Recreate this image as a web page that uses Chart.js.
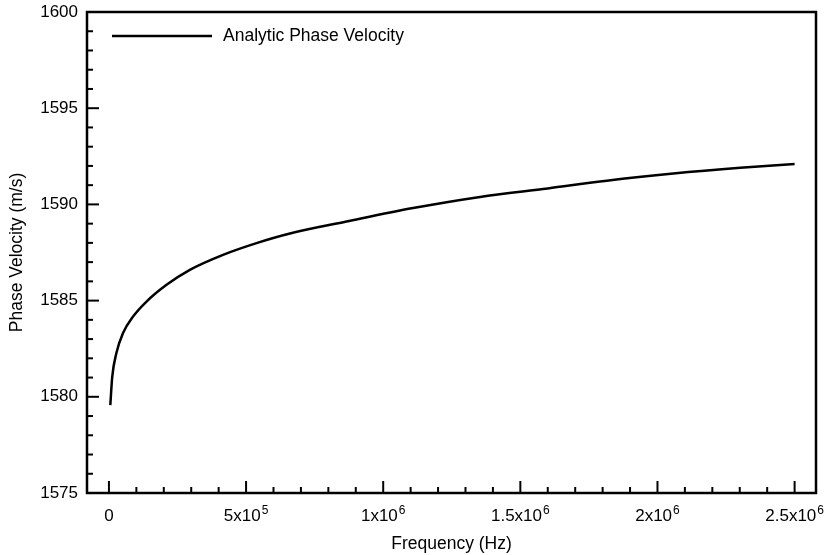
<!DOCTYPE html>
<html>
<head>
<meta charset="utf-8">
<script src="https://cdn.jsdelivr.net/npm/chart.js@4/dist/chart.umd.min.js"></script>
<style>
  html, body { margin: 0; padding: 0; background: #fff; }
  #wrap { width: 825px; height: 555px; }
</style>
</head>
<body>
<div id="wrap"><canvas id="chart" width="825" height="555"></canvas></div>
<script>
// values
var frequency = [5000, 12000, 27000, 51000, 88000, 137000, 210000, 295000, 416000, 538000,
                 660000, 866000, 1109000, 1353000, 1600000, 1815000, 2058000, 2302000, 2500000];
var phaseVelocity = [1579.57, 1581.04, 1582.26, 1583.30, 1584.17, 1584.95, 1585.82, 1586.60, 1587.38, 1587.99,
                     1588.49, 1589.11, 1589.81, 1590.39, 1590.83, 1591.23, 1591.60, 1591.90, 1592.10];
var xTickValues = [0, 500000, 1000000, 1500000, 2000000, 2500000];
var xTickBase = ['0', '5x10', '1x10', '1.5x10', '2x10', '2.5x10'];
var xTickExp = ['', '5', '6', '6', '6', '6'];
var yTickValues = [1575, 1580, 1585, 1590, 1595, 1600];
var seriesName = 'Analytic Phase Velocity';

var font = "'Liberation Sans', Arial, Helvetica, sans-serif";

// box, inward tick marks, x labels with exponents and the legend
var framePlugin = {
    id: 'frame',
    afterDraw: function (chart) {
        var ctx = chart.ctx;
        var a = chart.chartArea;
        var xs = chart.scales.x, ys = chart.scales.y;
        ctx.save();
        ctx.strokeStyle = '#000';
        ctx.fillStyle = '#000';
        ctx.lineCap = 'butt';

        // minor + major ticks on the bottom axis
        ctx.lineWidth = 2;
        for (var v = 0; v <= 2500000; v += 100000) {
            var px = xs.getPixelForValue(v);
            var len = (v % 500000 === 0) ? 12 : 6;
            ctx.beginPath();
            ctx.moveTo(px, a.bottom);
            ctx.lineTo(px, a.bottom - len);
            ctx.stroke();
        }
        // minor + major ticks on the left axis
        for (var w = 1575; w <= 1600; w += 1) {
            var py = ys.getPixelForValue(w);
            var l2 = (w % 5 === 0) ? 12 : 6;
            ctx.beginPath();
            ctx.moveTo(a.left, py);
            ctx.lineTo(a.left + l2, py);
            ctx.stroke();
        }

        // frame
        ctx.lineWidth = 2.5;
        ctx.strokeRect(a.left, a.top, a.right - a.left, a.bottom - a.top);

        // x tick labels: mantissa + raised exponent
        ctx.textBaseline = 'alphabetic';
        ctx.textAlign = 'left';
        var baseY = a.bottom + 28;
        for (var i = 0; i < xTickValues.length; i++) {
            ctx.font = '17px ' + font;
            var bw = ctx.measureText(xTickBase[i]).width;
            ctx.font = '12px ' + font;
            var ew = xTickExp[i] ? ctx.measureText(xTickExp[i]).width + 1 : 0;
            var x0 = xs.getPixelForValue(xTickValues[i]) - (bw + ew) / 2;
            ctx.font = '17px ' + font;
            ctx.fillText(xTickBase[i], x0, baseY);
            if (xTickExp[i]) {
                ctx.font = '12px ' + font;
                ctx.fillText(xTickExp[i], x0 + bw + 1, baseY - 7);
            }
        }

        // legend
        var ly = a.top + 24;
        ctx.lineWidth = 2.5;
        ctx.beginPath();
        ctx.moveTo(a.left + 25, ly);
        ctx.lineTo(a.left + 125, ly);
        ctx.stroke();
        ctx.font = '17.5px ' + font;
        ctx.textBaseline = 'middle';
        ctx.fillText(seriesName, a.left + 136, ly);
        ctx.restore();
    }
};

var ctx = document.getElementById('chart').getContext('2d');
var phaseChart = new Chart(ctx, {
    type: 'line',
    data: {
        datasets: [{
            label: seriesName,
            data: frequency.map(function (f, i) { return { x: f, y: phaseVelocity[i] }; }),
            borderColor: '#000',
            borderWidth: 2.5,
            pointRadius: 0,
            fill: false,
            cubicInterpolationMode: 'monotone'
        }]
    },
    options: {
        responsive: false,
        animation: false,
        devicePixelRatio: 1,
        layout: { padding: { top: 12, right: 9, left: 0, bottom: 0 } },
        plugins: {
            legend: { display: false },
            tooltip: { enabled: false }
        },
        scales: {
            x: {
                type: 'linear',
                min: -80000,
                max: 2578000,
                grid: { display: false, drawTicks: false },
                border: { display: false },
                afterBuildTicks: function (scale) {
                    scale.ticks = xTickValues.map(function (v) { return { value: v }; });
                },
                afterFit: function (scale) {
                    scale.height = 62;
                    scale.paddingLeft = 0;
                    scale.paddingRight = 0;
                },
                ticks: { display: false },
                title: {
                    display: true,
                    text: 'Frequency (Hz)',
                    color: '#000',
                    font: { size: 17.5, family: font },
                    padding: { top: 0, bottom: 0 }
                }
            },
            y: {
                type: 'linear',
                min: 1575,
                max: 1600,
                grid: { display: false, drawTicks: false },
                border: { display: false },
                afterBuildTicks: function (scale) {
                    scale.ticks = yTickValues.map(function (v) { return { value: v }; });
                },
                afterFit: function (scale) {
                    scale.width = 87;
                    scale.paddingTop = 0;
                    scale.paddingBottom = 0;
                },
                ticks: {
                    color: '#000',
                    padding: 9,
                    font: { size: 17, family: font },
                    callback: function (value) { return String(value); }
                },
                title: {
                    display: true,
                    text: 'Phase Velocity (m/s)',
                    color: '#000',
                    font: { size: 17.5, family: font },
                    padding: { top: 7, bottom: 0 }
                }
            }
        }
    },
    plugins: [framePlugin]
});
</script>
</body>
</html>
